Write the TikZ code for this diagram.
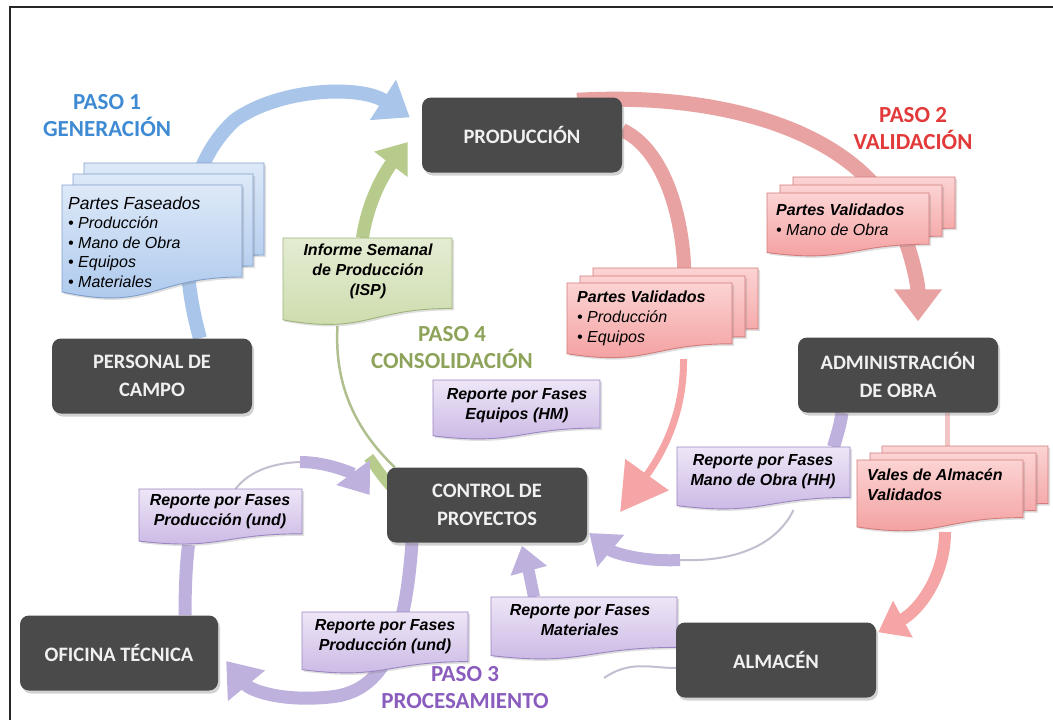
\documentclass[tikz,border=0pt]{standalone}
\usepackage{fontspec}
\setmainfont{Liberation Sans}
\newfontfamily\calib{Carlito}
\usetikzlibrary{arrows.meta,shadows,calc}
\pgfdeclarelayer{arrowlayer}
\pgfdeclarelayer{doclayer}
\pgfsetlayers{arrowlayer,doclayer,main}
\definecolor{boxgray}{HTML}{4A4A4A}
\definecolor{blueT}{HTML}{DDE9F8}
\definecolor{blueB}{HTML}{A9C6EC}
\definecolor{blueE}{HTML}{809FCC}
\definecolor{greenT}{HTML}{E4ECD3}
\definecolor{greenB}{HTML}{CCDBAA}
\definecolor{greenE}{HTML}{9DB47A}
\definecolor{redT}{HTML}{FCD3D3}
\definecolor{redB}{HTML}{F39C9C}
\definecolor{redE}{HTML}{D27C7C}
\definecolor{purT}{HTML}{EEE6F7}
\definecolor{purB}{HTML}{C8B5E3}
\definecolor{purE}{HTML}{9A86C2}
\definecolor{blueArr}{HTML}{A9C5EA}
\definecolor{greenArr}{HTML}{B7CC8C}
\definecolor{greenThin}{HTML}{AFC08E}
\definecolor{redArr}{HTML}{E9A2A2}
\definecolor{redArr2}{HTML}{F5A5A5}
\definecolor{redThin}{HTML}{F2C4C4}
\definecolor{purArr}{HTML}{BFB1DD}
\definecolor{purThin}{HTML}{C4BED0}
\definecolor{pasoA}{HTML}{3F8BD3}
\definecolor{pasoB}{HTML}{E23A3A}
\definecolor{pasoC}{HTML}{8A5CBE}
\definecolor{pasoD}{HTML}{8EA35A}
\newcommand\docsh[2]{\path[#2] (#1.north west) -- (#1.north east) -- ($(#1.north east)!0.8!(#1.south east)$) .. controls ($(#1.north)!0.8!(#1.south)$) and ($(#1.north)!1.1!(#1.south)$) .. ($(#1.north west)!0.93!(#1.south west)$) -- cycle;}
\begin{document}
\begin{tikzpicture}[x=1pt,y=-1pt,
  darkbox/.style={rounded corners=9pt, fill=boxgray, text=white!94!black,
    font=\calib\bfseries\fontsize{20.5}{28}\selectfont, minimum width=200pt,
    minimum height=75pt, align=center, inner sep=0pt,
    drop shadow={shadow xshift=2pt,shadow yshift=-3pt,opacity=0.35}},
  docframe/.style n args={2}{minimum width=#1pt, minimum height=#2pt, inner sep=0pt, outer sep=0pt},
  doctext/.style={inner sep=0pt, font=\itshape\fontsize{16}{20}\selectfont},
  doctitle/.style={inner sep=0pt, align=center, font=\bfseries\itshape\fontsize{16}{20}\selectfont},
  docshadow/.style={line width=0.9pt, drop shadow={shadow xshift=2pt,shadow yshift=-2pt,opacity=0.25}},
  bluedoc/.style={docshadow, top color=blueT, bottom color=blueB, draw=blueE},
  greendoc/.style={docshadow, top color=greenT, bottom color=greenB, draw=greenE},
  reddoc/.style={docshadow, top color=redT, bottom color=redB, draw=redE},
  purdoc/.style={docshadow, top color=purT, bottom color=purB, draw=purE},
  paso/.style={font=\calib\bfseries\fontsize{23}{27}\selectfont, align=center, inner sep=0pt},
  thick ribbon/.style={line width=#1, line cap=butt},
  bighead/.style={-{Triangle[width=46pt,length=32pt]}},
  midhead/.style={-{Triangle[width=40pt,length=28pt]}}
]
\useasboundingbox (0,0) rectangle (1053,720);

% ---------- dark boxes
\node[darkbox] (prod) at (522,135) {PRODUCCIÓN};
\node[darkbox] (pers) at (152,376) {PERSONAL DE\\CAMPO};
\node[darkbox, minimum width=198pt] (ofi) at (119,653) {OFICINA TÉCNICA};
\node[darkbox] (ctrl) at (487,505) {CONTROL DE\\PROYECTOS};
\node[darkbox] (adm) at (898,375) {ADMINISTRACIÓN\\DE OBRA};
\node[darkbox] (alm) at (776,660) {ALMACÉN};

% ---------- document frames
\node[docframe={180}{115}] (fasB) at (174,220.5) {};
\node[docframe={180}{115}] (fasM) at (163,231.5) {};
\node[docframe={180}{115}] (fasF) at (152,242.5) {};
\node[docframe={169}{88}] (ispF) at (367.5,282) {};
\node[docframe={162}{64}] (pvmB) at (874,209) {};
\node[docframe={162}{64}] (pvmM) at (861,217) {};
\node[docframe={162}{64}] (pvmF) at (848,225) {};
\node[docframe={165}{76}] (pvpB) at (675.5,306) {};
\node[docframe={165}{76}] (pvpM) at (662.5,314) {};
\node[docframe={165}{76}] (pvpF) at (649.5,321) {};
\node[docframe={166}{72}] (valB) at (965,482) {};
\node[docframe={166}{72}] (valM) at (953,489) {};
\node[docframe={166}{72}] (valF) at (940,496) {};
\node[docframe={167}{60}] (hmF) at (516.5,410) {};
\node[docframe={173}{63}] (hhF) at (763.5,478.5) {};
\node[docframe={186}{63}] (matF) at (584,628.5) {};
\node[docframe={163}{56}] (undA) at (220.5,517) {};
\node[docframe={166}{62}] (undB) at (385,643) {};

\begin{pgfonlayer}{doclayer}
\docsh{fasB}{bluedoc}\docsh{fasM}{bluedoc}\docsh{fasF}{bluedoc}
\docsh{ispF}{greendoc}
\docsh{pvmB}{reddoc}\docsh{pvmM}{reddoc}\docsh{pvmF}{reddoc}
\docsh{pvpB}{reddoc}\docsh{pvpM}{reddoc}\docsh{pvpF}{reddoc}
\docsh{valB}{reddoc}\docsh{valM}{reddoc}\docsh{valF}{reddoc}
\docsh{hmF}{purdoc}
\docsh{hhF}{purdoc}
\docsh{matF}{purdoc}
\docsh{undA}{purdoc}
\docsh{undB}{purdoc}
\end{pgfonlayer}

% ---------- document texts
\node[doctext, anchor=west, align=left, font=\itshape\fontsize{16}{19.5}\selectfont] (fas) at (68,242)
  {{\fontsize{17.5}{19.5}\selectfont Partes Faseados}\\• Producción\\• Mano de Obra\\• Equipos\\• Materiales};
\node[doctitle] (isp) at (368,271) {Informe Semanal\\de Producción\\(ISP)};
\node[doctext, anchor=west, align=left] (pvm) at (776,220) {\textbf{Partes Validados}\\• Mano de Obra};
\node[doctext, anchor=west, align=left] (pvp) at (577,318) {\textbf{Partes Validados}\\• Producción\\• Equipos};
\node[doctitle, anchor=west, align=left] (vales) at (867,485) {Vales de Almacén\\Validados};
\node[doctitle] (hm) at (517,406) {Reporte por Fases\\Equipos (HM)};
\node[doctitle] (hh) at (763,472) {Reporte por Fases\\Mano de Obra (HH)};
\node[doctitle] (mat) at (580,620) {Reporte por Fases\\Materiales};
\node[doctitle] (und1) at (220,512) {Reporte por Fases\\Producción (und)};
\node[doctitle] (und2) at (385,637) {Reporte por Fases\\Producción (und)};

% ---------- step labels
\node[paso, text=pasoA] (p1) at (107,116) {PASO 1\\GENERACIÓN};
\node[paso, text=pasoB] (p2) at (913,129) {PASO 2\\VALIDACIÓN};
\node[paso, text=pasoD] (p4) at (452,348) {PASO 4\\CONSOLIDACIÓN};
\node[paso, text=pasoC] (p3) at (465,688) {PASO 3\\PROCESAMIENTO};

% ---------- frame
\draw[line width=1.5pt, black!85] (10,720) -- (10,7) -- (1053,7);

% ---------- arrows
\begin{pgfonlayer}{arrowlayer}
\fill[white] (0,0) rectangle (1053,720);
\coordinate (p1mid) at (680,560);
\coordinate (p4mid) at (300,462);
% PASO 1 (blue)
\draw[thick ribbon=14pt, blueArr, bighead] ([xshift=48pt]pers.north)
  .. controls (178,260) and (180,170) .. (235,120)
  .. controls (280,88) and (360,85) .. ([xshift=-12pt,yshift=-20pt]prod.north west);
% PASO 4 (green)
\draw[line width=2.5pt, greenThin] ([xshift=8pt]ctrl.north west)
  .. controls (345,420) and (335,370) .. ([xshift=-30pt]ispF.south);
\draw[thick ribbon=11pt, greenArr] ([xshift=5pt,yshift=-20pt]ctrl.north west)
  .. controls (383,478) and (376,467) .. ([xshift=-18pt,yshift=10pt]ctrl.north west);
\draw[thick ribbon=13pt, greenArr, midhead] ([xshift=-5pt]ispF.north)
  .. controls (368,200) and (385,172) .. ([xshift=-14pt,yshift=-7pt]prod.west);
% PASO 2 (red)
\draw[thick ribbon=15pt, redArr, bighead] ([xshift=55pt,yshift=-3pt]prod.north)
  .. controls (720,92) and (850,130) .. (895,215)
  .. controls (912,250) and (918,285) .. ([xshift=20pt,yshift=16pt]adm.north);
\draw[thick ribbon=14pt, redArr] ([yshift=5pt]prod.east)
  .. controls (665,150) and (685,220) .. ([xshift=35pt]pvpF.north);
\draw[thick ribbon=7pt, redArr2, -{Triangle[width=52pt,length=46pt]}] ([xshift=34pt]pvpF.south)
  .. controls (684,400) and (672,440) .. ([xshift=33pt,yshift=-7pt]ctrl.east);
\draw[line width=5pt, redThin] ([xshift=49pt]adm.south) -- ([xshift=-18pt]valB.north);
\draw[thick ribbon=12pt, redArr2, midhead] ([xshift=5pt]valF.south)
  .. controls (945,575) and (920,610) .. ([xshift=2pt,yshift=-10pt]alm.north east);
% PASO 3 (purple)
\draw[thick ribbon=13pt, purArr] ([xshift=-56pt]adm.south)
  .. controls (840,425) .. ([xshift=70pt]hhF.north);
\draw[line width=2pt, purThin] ([xshift=30pt]hhF.south)
  .. controls (775,548) and (730,562) .. (p1mid);
\draw[thick ribbon=12pt, purArr, midhead] (p1mid)
  .. controls (640,562) and (612,552) .. ([xshift=2pt,yshift=-28pt]ctrl.east);
\draw[line width=2pt, purThin] ([yshift=-8pt]alm.west)
  .. controls (650,668) and (630,660) .. ([xshift=20pt,yshift=-18pt]matF.south);
\draw[thick ribbon=12pt, purArr, -{Triangle[width=36pt,length=26pt]}] ([xshift=-50pt]matF.north)
  .. controls (531,582) and (528,568) .. ([xshift=35pt,yshift=-3pt]ctrl.south);
\draw[thick ribbon=13pt, purArr, bighead] ([xshift=-75pt]ctrl.south)
  .. controls (405,640) and (385,692) .. (330,697)
  .. controls (280,702) and (250,690) .. ([xshift=8pt,yshift=-8pt]ofi.east);
\draw[thick ribbon=13pt, purArr] ([xshift=66pt]ofi.north)
  .. controls (185,590) and (186,565) .. ([xshift=-32pt]undA.south);
\draw[line width=2pt, purThin] ([xshift=15pt]undA.north)
  .. controls (250,470) and (275,463) .. (p4mid);
\draw[thick ribbon=12pt, purArr, midhead] (p4mid)
  .. controls (330,462) and (355,475) .. ([xshift=-17pt,yshift=10pt]ctrl.west);
\end{pgfonlayer}
\end{tikzpicture}
\end{document}
